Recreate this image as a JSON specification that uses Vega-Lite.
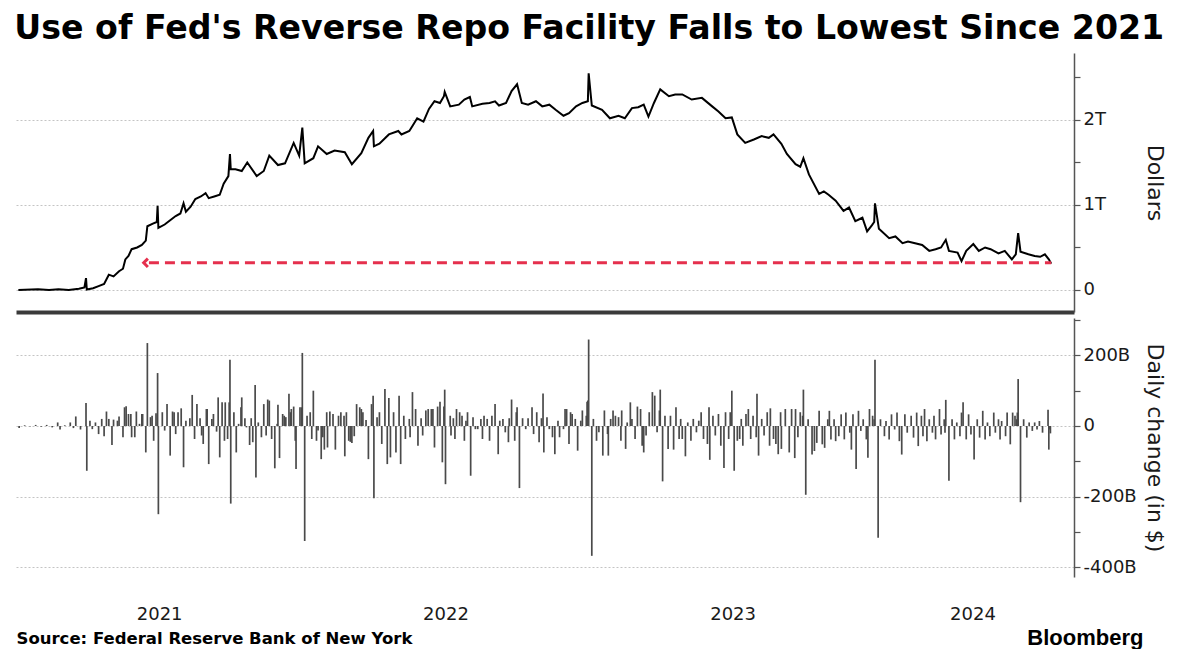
{
"$schema": "https://vega.github.io/schema/vega-lite/v6.json",
"background": "white",
"padding": {"left": 14, "top": 11, "right": 4, "bottom": 0},
"config": {"view": {"stroke": null}, "font": "DejaVu Sans"},
"title": {"text": "Use of Fed's Reverse Repo Facility Falls to Lowest Since 2021", "anchor": "start", "font": "DejaVu Sans", "fontSize": 33.2, "fontWeight": "bold", "color": "#000000", "offset": 7},
"datasets": {
"level": [
{"d":"2021-01-04","v":0},{"d":"2021-01-29","v":8},{"d":"2021-02-12","v":0},{"d":"2021-02-24","v":8},{"d":"2021-03-09","v":0},{"d":"2021-03-22","v":15},{"d":"2021-03-29","v":30},{"d":"2021-03-31","v":140},{"d":"2021-04-01","v":5},{"d":"2021-04-09","v":20},{"d":"2021-04-16","v":45},{"d":"2021-04-23","v":70},{"d":"2021-04-29","v":180},{"d":"2021-05-05","v":160},{"d":"2021-05-12","v":220},{"d":"2021-05-17","v":250},{"d":"2021-05-20","v":360},{"d":"2021-05-24","v":400},{"d":"2021-05-28","v":480},{"d":"2021-06-04","v":500},{"d":"2021-06-10","v":530},{"d":"2021-06-15","v":580},{"d":"2021-06-17","v":750},{"d":"2021-06-24","v":780},{"d":"2021-06-29","v":800},{"d":"2021-06-30","v":990},{"d":"2021-07-01","v":730},{"d":"2021-07-09","v":770},{"d":"2021-07-16","v":820},{"d":"2021-07-23","v":870},{"d":"2021-07-29","v":900},{"d":"2021-08-02","v":1020},{"d":"2021-08-05","v":920},{"d":"2021-08-11","v":980},{"d":"2021-08-17","v":1070},{"d":"2021-08-24","v":1100},{"d":"2021-08-30","v":1140},{"d":"2021-09-03","v":1080},{"d":"2021-09-10","v":1100},{"d":"2021-09-17","v":1120},{"d":"2021-09-22","v":1250},{"d":"2021-09-28","v":1340},{"d":"2021-09-30","v":1600},{"d":"2021-10-01","v":1420},{"d":"2021-10-07","v":1420},{"d":"2021-10-15","v":1400},{"d":"2021-10-22","v":1500},{"d":"2021-11-03","v":1340},{"d":"2021-11-12","v":1400},{"d":"2021-11-19","v":1580},{"d":"2021-11-30","v":1470},{"d":"2021-12-09","v":1490},{"d":"2021-12-20","v":1730},{"d":"2021-12-27","v":1580},{"d":"2021-12-31","v":1910},{"d":"2022-01-03","v":1490},{"d":"2022-01-14","v":1550},{"d":"2022-01-20","v":1690},{"d":"2022-01-31","v":1600},{"d":"2022-02-10","v":1640},{"d":"2022-02-23","v":1620},{"d":"2022-03-04","v":1480},{"d":"2022-03-16","v":1610},{"d":"2022-03-25","v":1790},{"d":"2022-03-31","v":1870},{"d":"2022-04-01","v":1690},{"d":"2022-04-08","v":1720},{"d":"2022-04-20","v":1830},{"d":"2022-05-02","v":1870},{"d":"2022-05-06","v":1830},{"d":"2022-05-16","v":1870},{"d":"2022-05-20","v":1930},{"d":"2022-05-26","v":2020},{"d":"2022-06-03","v":1980},{"d":"2022-06-10","v":2130},{"d":"2022-06-17","v":2220},{"d":"2022-06-24","v":2200},{"d":"2022-06-29","v":2280},{"d":"2022-06-30","v":2330},{"d":"2022-07-07","v":2160},{"d":"2022-07-18","v":2180},{"d":"2022-07-25","v":2240},{"d":"2022-08-01","v":2270},{"d":"2022-08-04","v":2160},{"d":"2022-08-17","v":2190},{"d":"2022-08-26","v":2200},{"d":"2022-09-02","v":2220},{"d":"2022-09-07","v":2170},{"d":"2022-09-16","v":2200},{"d":"2022-09-23","v":2340},{"d":"2022-09-30","v":2420},{"d":"2022-10-06","v":2200},{"d":"2022-10-14","v":2180},{"d":"2022-10-24","v":2220},{"d":"2022-11-01","v":2160},{"d":"2022-11-10","v":2180},{"d":"2022-11-18","v":2120},{"d":"2022-11-28","v":2050},{"d":"2022-12-05","v":2080},{"d":"2022-12-14","v":2160},{"d":"2022-12-22","v":2200},{"d":"2022-12-29","v":2220},{"d":"2022-12-30","v":2550},{"d":"2023-01-03","v":2170},{"d":"2023-01-16","v":2120},{"d":"2023-01-26","v":2020},{"d":"2023-02-06","v":2050},{"d":"2023-02-14","v":2020},{"d":"2023-02-23","v":2140},{"d":"2023-03-03","v":2150},{"d":"2023-03-10","v":2180},{"d":"2023-03-16","v":2040},{"d":"2023-03-23","v":2200},{"d":"2023-03-31","v":2360},{"d":"2023-04-11","v":2280},{"d":"2023-04-19","v":2300},{"d":"2023-04-28","v":2300},{"d":"2023-05-10","v":2240},{"d":"2023-05-23","v":2260},{"d":"2023-06-05","v":2160},{"d":"2023-06-13","v":2100},{"d":"2023-06-22","v":2020},{"d":"2023-06-30","v":2030},{"d":"2023-07-07","v":1830},{"d":"2023-07-17","v":1730},{"d":"2023-07-28","v":1770},{"d":"2023-08-07","v":1810},{"d":"2023-08-16","v":1790},{"d":"2023-08-22","v":1830},{"d":"2023-09-01","v":1720},{"d":"2023-09-08","v":1600},{"d":"2023-09-19","v":1480},{"d":"2023-09-25","v":1450},{"d":"2023-09-29","v":1550},{"d":"2023-10-06","v":1360},{"d":"2023-10-19","v":1130},{"d":"2023-10-25","v":1160},{"d":"2023-10-31","v":1120},{"d":"2023-11-09","v":1050},{"d":"2023-11-19","v":930},{"d":"2023-11-26","v":970},{"d":"2023-12-04","v":810},{"d":"2023-12-13","v":850},{"d":"2023-12-19","v":690},{"d":"2023-12-25","v":760},{"d":"2023-12-28","v":800},{"d":"2023-12-29","v":1020},{"d":"2024-01-03","v":720},{"d":"2024-01-16","v":610},{"d":"2024-01-24","v":630},{"d":"2024-02-02","v":550},{"d":"2024-02-09","v":570},{"d":"2024-02-18","v":550},{"d":"2024-02-27","v":530},{"d":"2024-03-07","v":460},{"d":"2024-03-15","v":480},{"d":"2024-03-22","v":500},{"d":"2024-03-28","v":590},{"d":"2024-04-01","v":460},{"d":"2024-04-12","v":440},{"d":"2024-04-17","v":340},{"d":"2024-04-23","v":460},{"d":"2024-05-02","v":540},{"d":"2024-05-09","v":460},{"d":"2024-05-17","v":500},{"d":"2024-05-24","v":480},{"d":"2024-06-03","v":430},{"d":"2024-06-11","v":460},{"d":"2024-06-20","v":360},{"d":"2024-06-25","v":420},{"d":"2024-06-28","v":670},{"d":"2024-07-01","v":450},{"d":"2024-07-11","v":420},{"d":"2024-07-19","v":400},{"d":"2024-07-26","v":390},{"d":"2024-08-01","v":420},{"d":"2024-08-06","v":360},{"d":"2024-08-09","v":310}
],
"change": [
{"d":"2021-01-05","c":-6},{"d":"2021-01-12","c":2},{"d":"2021-01-19","c":-1},{"d":"2021-01-26","c":3},{"d":"2021-02-02","c":-2},{"d":"2021-02-09","c":3},{"d":"2021-02-16","c":-4},{"d":"2021-02-23","c":10},{"d":"2021-02-26","c":-10},{"d":"2021-03-04","c":2},{"d":"2021-03-11","c":10},{"d":"2021-03-15","c":-6},{"d":"2021-03-18","c":27},{"d":"2021-03-24","c":-10},{"d":"2021-03-31","c":65},{"d":"2021-04-01","c":-127},{"d":"2021-04-05","c":15},{"d":"2021-04-08","c":-9},{"d":"2021-04-12","c":10},{"d":"2021-04-16","c":-23},{"d":"2021-04-20","c":20},{"d":"2021-04-23","c":-29},{"d":"2021-04-26","c":41},{"d":"2021-04-29","c":20},
{"d":"2021-05-03","c":-54},{"d":"2021-05-05","c":18},{"d":"2021-05-10","c":15},{"d":"2021-05-12","c":27},{"d":"2021-05-17","c":-32},{"d":"2021-05-19","c":53},{"d":"2021-05-21","c":56},{"d":"2021-05-24","c":34},{"d":"2021-05-27","c":34},{"d":"2021-05-28","c":-32},{"d":"2021-06-01","c":-32},{"d":"2021-06-03","c":41},{"d":"2021-06-07","c":6},{"d":"2021-06-10","c":34},{"d":"2021-06-11","c":34},{"d":"2021-06-15","c":-75},{"d":"2021-06-17","c":235},{"d":"2021-06-21","c":25},{"d":"2021-06-23","c":29},{"d":"2021-06-25","c":-42},{"d":"2021-06-28","c":36},{"d":"2021-06-30","c":150},
{"d":"2021-07-01","c":-250},{"d":"2021-07-06","c":39},{"d":"2021-07-09","c":-13},{"d":"2021-07-12","c":62},{"d":"2021-07-16","c":-84},{"d":"2021-07-19","c":41},{"d":"2021-07-21","c":39},{"d":"2021-07-23","c":-23},{"d":"2021-07-26","c":39},{"d":"2021-07-30","c":50},{"d":"2021-08-02","c":-117},{"d":"2021-08-05","c":15},{"d":"2021-08-10","c":22},{"d":"2021-08-13","c":88},{"d":"2021-08-16","c":-37},{"d":"2021-08-19","c":62},{"d":"2021-08-23","c":22},{"d":"2021-08-25","c":-27},{"d":"2021-08-27","c":-51},{"d":"2021-08-31","c":48},
{"d":"2021-09-01","c":48},{"d":"2021-09-03","c":-108},{"d":"2021-09-07","c":20},{"d":"2021-09-09","c":34},{"d":"2021-09-13","c":-16},{"d":"2021-09-15","c":81},{"d":"2021-09-17","c":-89},{"d":"2021-09-20","c":67},{"d":"2021-09-23","c":-42},{"d":"2021-09-24","c":67},{"d":"2021-09-27","c":-37},{"d":"2021-09-29","c":67},{"d":"2021-09-30","c":188},{"d":"2021-10-01","c":-220},{"d":"2021-10-05","c":39},{"d":"2021-10-08","c":-75},{"d":"2021-10-11","c":6},{"d":"2021-10-14","c":53},{"d":"2021-10-15","c":81},{"d":"2021-10-19","c":22},{"d":"2021-10-21","c":-4},{"d":"2021-10-25","c":-54},{"d":"2021-10-27","c":22},{"d":"2021-10-29","c":-46},
{"d":"2021-11-01","c":116},{"d":"2021-11-02","c":-146},{"d":"2021-11-05","c":10},{"d":"2021-11-09","c":-32},{"d":"2021-11-12","c":62},{"d":"2021-11-15","c":-27},{"d":"2021-11-17","c":75},{"d":"2021-11-19","c":72},{"d":"2021-11-22","c":-37},{"d":"2021-11-26","c":-120},{"d":"2021-11-29","c":6},{"d":"2021-11-30","c":60},{"d":"2021-12-02","c":-91},{"d":"2021-12-06","c":34},{"d":"2021-12-08","c":29},{"d":"2021-12-10","c":25},{"d":"2021-12-14","c":91},{"d":"2021-12-16","c":39},{"d":"2021-12-17","c":48},{"d":"2021-12-20","c":55},{"d":"2021-12-22","c":-42},{"d":"2021-12-23","c":-122},{"d":"2021-12-28","c":53},{"d":"2021-12-30","c":53},{"d":"2021-12-31","c":207},
{"d":"2022-01-03","c":-326},{"d":"2022-01-06","c":29},{"d":"2022-01-10","c":39},{"d":"2022-01-12","c":-37},{"d":"2022-01-14","c":100},{"d":"2022-01-18","c":-42},{"d":"2022-01-20","c":-13},{"d":"2022-01-24","c":-94},{"d":"2022-01-26","c":-32},{"d":"2022-01-28","c":-67},{"d":"2022-01-31","c":39},{"d":"2022-02-01","c":-61},{"d":"2022-02-04","c":41},{"d":"2022-02-08","c":34},{"d":"2022-02-11","c":-67},{"d":"2022-02-15","c":29},{"d":"2022-02-18","c":39},{"d":"2022-02-22","c":29},{"d":"2022-02-23","c":-86},{"d":"2022-02-25","c":39},{"d":"2022-02-28","c":-42},
{"d":"2022-03-02","c":-45},{"d":"2022-03-04","c":-48},{"d":"2022-03-07","c":-29},{"d":"2022-03-10","c":62},{"d":"2022-03-14","c":53},{"d":"2022-03-16","c":48},{"d":"2022-03-18","c":39},{"d":"2022-03-22","c":17},{"d":"2022-03-25","c":-94},{"d":"2022-03-29","c":62},{"d":"2022-03-31","c":86},{"d":"2022-04-01","c":-205},{"d":"2022-04-05","c":25},{"d":"2022-04-08","c":39},{"d":"2022-04-11","c":-51},{"d":"2022-04-15","c":105},{"d":"2022-04-18","c":-108},{"d":"2022-04-20","c":79},{"d":"2022-04-22","c":-89},{"d":"2022-04-26","c":39},{"d":"2022-04-29","c":-75},
{"d":"2022-05-03","c":86},{"d":"2022-05-05","c":-108},{"d":"2022-05-09","c":29},{"d":"2022-05-11","c":-37},{"d":"2022-05-16","c":20},{"d":"2022-05-17","c":-32},{"d":"2022-05-20","c":96},{"d":"2022-05-24","c":48},{"d":"2022-05-27","c":-56},{"d":"2022-05-31","c":22},{"d":"2022-06-02","c":-27},{"d":"2022-06-06","c":44},{"d":"2022-06-09","c":48},{"d":"2022-06-13","c":48},{"d":"2022-06-15","c":48},{"d":"2022-06-17","c":-61},{"d":"2022-06-21","c":55},{"d":"2022-06-24","c":69},{"d":"2022-06-27","c":-103},{"d":"2022-06-29","c":55},{"d":"2022-06-30","c":103},
{"d":"2022-07-01","c":-165},{"d":"2022-07-07","c":29},{"d":"2022-07-08","c":-27},{"d":"2022-07-11","c":22},{"d":"2022-07-13","c":-37},{"d":"2022-07-15","c":48},{"d":"2022-07-19","c":39},{"d":"2022-07-22","c":29},{"d":"2022-07-25","c":-42},{"d":"2022-07-27","c":15},{"d":"2022-07-29","c":39},{"d":"2022-08-02","c":-141},{"d":"2022-08-05","c":25},{"d":"2022-08-08","c":-9},{"d":"2022-08-11","c":-9},{"d":"2022-08-15","c":20},{"d":"2022-08-17","c":-37},{"d":"2022-08-19","c":29},{"d":"2022-08-23","c":20},{"d":"2022-08-26","c":-42},{"d":"2022-08-29","c":29},
{"d":"2022-09-02","c":62},{"d":"2022-09-06","c":-80},{"d":"2022-09-08","c":15},{"d":"2022-09-12","c":20},{"d":"2022-09-15","c":-18},{"d":"2022-09-19","c":-46},{"d":"2022-09-20","c":22},{"d":"2022-09-23","c":75},{"d":"2022-09-27","c":-42},{"d":"2022-09-29","c":39},{"d":"2022-09-30","c":53},{"d":"2022-10-03","c":-176},{"d":"2022-10-07","c":22},{"d":"2022-10-11","c":-9},{"d":"2022-10-14","c":22},{"d":"2022-10-19","c":53},{"d":"2022-10-21","c":-23},{"d":"2022-10-25","c":39},{"d":"2022-10-28","c":-46},{"d":"2022-10-31","c":22},
{"d":"2022-11-02","c":92},{"d":"2022-11-03","c":-75},{"d":"2022-11-07","c":25},{"d":"2022-11-10","c":-9},{"d":"2022-11-14","c":-32},{"d":"2022-11-17","c":-80},{"d":"2022-11-21","c":15},{"d":"2022-11-23","c":-32},{"d":"2022-11-28","c":-9},{"d":"2022-11-30","c":48},{"d":"2022-12-02","c":48},{"d":"2022-12-05","c":-51},{"d":"2022-12-07","c":39},{"d":"2022-12-09","c":34},{"d":"2022-12-13","c":20},{"d":"2022-12-16","c":-70},{"d":"2022-12-20","c":15},{"d":"2022-12-22","c":44},{"d":"2022-12-27","c":29},{"d":"2022-12-28","c":69},{"d":"2022-12-29","c":72},{"d":"2022-12-30","c":245},
{"d":"2023-01-03","c":-368},{"d":"2023-01-05","c":20},{"d":"2023-01-09","c":-42},{"d":"2023-01-12","c":-18},{"d":"2023-01-17","c":-84},{"d":"2023-01-19","c":44},{"d":"2023-01-23","c":-23},{"d":"2023-01-24","c":-84},{"d":"2023-01-27","c":20},{"d":"2023-01-30","c":44},{"d":"2023-02-02","c":29},{"d":"2023-02-06","c":25},{"d":"2023-02-09","c":-42},{"d":"2023-02-10","c":44},{"d":"2023-02-15","c":-65},{"d":"2023-02-17","c":10},{"d":"2023-02-21","c":67},{"d":"2023-02-23","c":20},{"d":"2023-02-27","c":-37},
{"d":"2023-03-02","c":55},{"d":"2023-03-06","c":48},{"d":"2023-03-08","c":-56},{"d":"2023-03-10","c":-75},{"d":"2023-03-13","c":-27},{"d":"2023-03-17","c":39},{"d":"2023-03-21","c":96},{"d":"2023-03-24","c":86},{"d":"2023-03-27","c":-18},{"d":"2023-03-30","c":44},{"d":"2023-03-31","c":103},{"d":"2023-04-03","c":-157},{"d":"2023-04-06","c":29},{"d":"2023-04-10","c":-65},{"d":"2023-04-13","c":29},{"d":"2023-04-17","c":-67},{"d":"2023-04-20","c":53},{"d":"2023-04-24","c":-37},{"d":"2023-04-26","c":20},{"d":"2023-04-28","c":-37},
{"d":"2023-05-02","c":-86},{"d":"2023-05-05","c":10},{"d":"2023-05-09","c":-42},{"d":"2023-05-12","c":20},{"d":"2023-05-16","c":-18},{"d":"2023-05-19","c":15},{"d":"2023-05-22","c":39},{"d":"2023-05-25","c":-37},{"d":"2023-05-30","c":-51},{"d":"2023-06-01","c":53},{"d":"2023-06-02","c":-96},{"d":"2023-06-06","c":29},{"d":"2023-06-09","c":-27},{"d":"2023-06-13","c":34},{"d":"2023-06-16","c":-56},{"d":"2023-06-20","c":-119},{"d":"2023-06-22","c":39},{"d":"2023-06-26","c":-37},{"d":"2023-06-28","c":39},{"d":"2023-06-30","c":100},
{"d":"2023-07-03","c":-127},{"d":"2023-07-07","c":-42},{"d":"2023-07-10","c":-37},{"d":"2023-07-12","c":20},{"d":"2023-07-14","c":-56},{"d":"2023-07-18","c":34},{"d":"2023-07-21","c":48},{"d":"2023-07-24","c":-37},{"d":"2023-07-27","c":29},{"d":"2023-07-31","c":-32},{"d":"2023-08-01","c":91},{"d":"2023-08-03","c":-84},{"d":"2023-08-07","c":20},{"d":"2023-08-10","c":-27},{"d":"2023-08-14","c":39},{"d":"2023-08-17","c":-56},{"d":"2023-08-18","c":50},{"d":"2023-08-22","c":-37},{"d":"2023-08-25","c":-51},{"d":"2023-08-28","c":-80},{"d":"2023-08-31","c":39},
{"d":"2023-09-01","c":-65},{"d":"2023-09-06","c":48},{"d":"2023-09-11","c":-75},{"d":"2023-09-14","c":48},{"d":"2023-09-18","c":-91},{"d":"2023-09-19","c":48},{"d":"2023-09-22","c":-32},{"d":"2023-09-25","c":39},{"d":"2023-09-28","c":29},{"d":"2023-09-29","c":103},{"d":"2023-10-02","c":-195},{"d":"2023-10-05","c":19},{"d":"2023-10-10","c":-81},{"d":"2023-10-13","c":-71},{"d":"2023-10-16","c":-48},{"d":"2023-10-19","c":43},{"d":"2023-10-23","c":-52},{"d":"2023-10-26","c":-62},{"d":"2023-10-30","c":19},
{"d":"2023-11-01","c":43},{"d":"2023-11-03","c":-38},{"d":"2023-11-07","c":19},{"d":"2023-11-09","c":-43},{"d":"2023-11-13","c":-29},{"d":"2023-11-16","c":33},{"d":"2023-11-20","c":-38},{"d":"2023-11-22","c":38},{"d":"2023-11-27","c":-19},{"d":"2023-11-29","c":-67},{"d":"2023-12-01","c":33},{"d":"2023-12-05","c":-122},{"d":"2023-12-08","c":43},{"d":"2023-12-11","c":-14},{"d":"2023-12-14","c":19},{"d":"2023-12-18","c":-38},{"d":"2023-12-20","c":-90},{"d":"2023-12-22","c":48},{"d":"2023-12-26","c":29},{"d":"2023-12-28","c":19},{"d":"2023-12-29","c":188},
{"d":"2024-01-02","c":-317},{"d":"2024-01-05","c":19},{"d":"2024-01-10","c":-29},{"d":"2024-01-12","c":14},{"d":"2024-01-16","c":-38},{"d":"2024-01-19","c":33},{"d":"2024-01-23","c":-10},{"d":"2024-01-26","c":38},{"d":"2024-01-29","c":-43},{"d":"2024-02-01","c":-81},{"d":"2024-02-05","c":33},{"d":"2024-02-08","c":-19},{"d":"2024-02-13","c":29},{"d":"2024-02-16","c":-33},{"d":"2024-02-20","c":38},{"d":"2024-02-22","c":-57},{"d":"2024-02-26","c":29},{"d":"2024-02-28","c":-29},
{"d":"2024-03-01","c":48},{"d":"2024-03-04","c":-43},{"d":"2024-03-07","c":19},{"d":"2024-03-11","c":-19},{"d":"2024-03-13","c":29},{"d":"2024-03-15","c":-38},{"d":"2024-03-20","c":48},{"d":"2024-03-22","c":-24},{"d":"2024-03-26","c":19},{"d":"2024-03-27","c":-19},{"d":"2024-03-28","c":74},{"d":"2024-04-01","c":-155},{"d":"2024-04-05","c":19},{"d":"2024-04-08","c":-38},{"d":"2024-04-11","c":10},{"d":"2024-04-15","c":-29},{"d":"2024-04-17","c":38},{"d":"2024-04-19","c":67},{"d":"2024-04-23","c":-38},{"d":"2024-04-26","c":33},{"d":"2024-04-29","c":-24},
{"d":"2024-05-03","c":-95},{"d":"2024-05-07","c":19},{"d":"2024-05-10","c":-33},{"d":"2024-05-14","c":43},{"d":"2024-05-17","c":-38},{"d":"2024-05-20","c":10},{"d":"2024-05-23","c":-29},{"d":"2024-05-28","c":38},{"d":"2024-05-30","c":-19},{"d":"2024-06-03","c":19},{"d":"2024-06-05","c":-38},{"d":"2024-06-07","c":14},{"d":"2024-06-12","c":-29},{"d":"2024-06-14","c":38},{"d":"2024-06-18","c":-52},{"d":"2024-06-21","c":38},{"d":"2024-06-24","c":29},{"d":"2024-06-26","c":19},{"d":"2024-06-27","c":38},{"d":"2024-06-28","c":133},
{"d":"2024-07-01","c":-216},{"d":"2024-07-05","c":19},{"d":"2024-07-09","c":-33},{"d":"2024-07-12","c":10},{"d":"2024-07-16","c":-14},{"d":"2024-07-19","c":10},{"d":"2024-07-22","c":-10},{"d":"2024-07-25","c":14},{"d":"2024-07-29","c":-19},{"d":"2024-08-05","c":46},{"d":"2024-08-06","c":-67},{"d":"2024-08-07","c":-10},{"d":"2024-08-08","c":-21}
]
},
"vconcat": [
{
"title": {"text": "Bloomberg", "orient": "bottom", "anchor": "end", "font": "Liberation Sans", "fontSize": 22, "fontWeight": "bold", "color": "#000000", "offset": -19, "dx": -22},
"spacing": 6,
"vconcat": [
{
"width": 1058, "height": 259,
"layer": [
{
"data": {"name": "level"},
"mark": {"type": "line", "color": "#000000", "strokeWidth": 2},
"encoding": {
"x": {"field": "d", "type": "temporal", "scale": {"domain": [{"year": 2021, "month": 1, "date": 1}, {"year": 2024, "month": 9, "date": 7}]},
 "axis": {"orient": "bottom", "labels": false, "ticks": false, "grid": false, "domain": true, "domainWidth": 4, "domainColor": "#3a3a3a", "title": null}},
"y": {"field": "v", "type": "quantitative", "scale": {"domain": [-259, 2788], "nice": false, "zero": false},
 "axis": {"orient": "right", "values": [0, 500, 1000, 1500, 2000, 2500],
  "labelExpr": "datum.value % 1000 === 0 ? (datum.value === 0 ? '0' : datum.value / 1000 + 'T') : ''",
  "grid": true, "gridColor": "#c4c4c4", "gridDash": [2, 2], "gridWidth": 1,
  "gridOpacity": {"condition": {"test": "datum.value % 1000 === 0", "value": 1}, "value": 0},
  "tickSize": 6, "tickColor": "#555555", "tickWidth": 1.2, "domainColor": "#555555", "domainWidth": 1.5,
  "labelFont": "DejaVu Sans", "labelFontSize": 18, "labelColor": "#1a1a1a", "labelPadding": 3,
  "title": "Dollars", "titleFont": "DejaVu Sans", "titleFontSize": 22, "titleFontWeight": "normal", "titleColor": "#1a1a1a", "titlePadding": 37}}
}
},
{
"data": {"values": [{}]},
"mark": {"type": "rule", "color": "#e5304d", "strokeWidth": 3, "strokeDash": [10, 6]},
"encoding": {
"x": {"datum": {"year": 2021, "month": 6, "date": 19}, "type": "temporal"},
"x2": {"datum": {"year": 2024, "month": 8, "date": 9}},
"y": {"datum": 320, "type": "quantitative"}
}
},
{
"data": {"values": [{}]},
"mark": {"type": "point", "shape": "M0.5,-1L-0.5,0L0.5,1", "filled": false, "stroke": "#e5304d", "strokeWidth": 3, "size": 70, "opacity": 1},
"encoding": {
"x": {"datum": {"year": 2021, "month": 6, "date": 15}, "type": "temporal"},
"y": {"datum": 320, "type": "quantitative"}
}
}
]
},
{
"width": 1058, "height": 259,
"data": {"name": "change"},
"mark": {"type": "rule", "color": "#4a4a4a", "strokeWidth": 1.7},
"encoding": {
"x": {"field": "d", "type": "temporal", "scale": {"domain": [{"year": 2021, "month": 1, "date": 1}, {"year": 2024, "month": 9, "date": 7}]},
 "axis": {"orient": "bottom", "values": [{"year": 2021, "month": 7, "date": 2}, {"year": 2022, "month": 7, "date": 1}, {"year": 2023, "month": 7, "date": 1}, {"year": 2024, "month": 5, "date": 1}],
  "format": "%Y", "domain": false, "ticks": false, "grid": false,
  "labelFont": "DejaVu Sans", "labelFontSize": 18, "labelColor": "#1a1a1a", "labelPadding": 28,
  "title": "Source: Federal Reserve Bank of New York", "titleAnchor": "start", "titleAlign": "left",
  "titleFont": "DejaVu Sans", "titleFontSize": 16.5, "titleFontWeight": "bold", "titleColor": "#000000", "titlePadding": 7}},
"y": {"field": "c", "type": "quantitative", "scale": {"domain": [-428, 306], "nice": false, "zero": false},
 "axis": {"orient": "right", "values": [-400, -300, -200, -100, 0, 100, 200, 300],
  "labelExpr": "datum.value % 200 === 0 ? (datum.value === 0 ? '0' : datum.value + 'B') : ''",
  "grid": true, "gridColor": "#c4c4c4", "gridDash": [2, 2], "gridWidth": 1,
  "gridOpacity": {"condition": {"test": "datum.value % 200 === 0", "value": 1}, "value": 0},
  "tickSize": 6, "tickColor": "#555555", "tickWidth": 1.2, "domainColor": "#555555", "domainWidth": 1.5,
  "labelFont": "DejaVu Sans", "labelFontSize": 18, "labelColor": "#1a1a1a", "labelPadding": 3,
  "title": "Daily change (in $)", "titleFont": "DejaVu Sans", "titleFontSize": 22, "titleFontWeight": "normal", "titleColor": "#1a1a1a", "titlePadding": 6}},
"y2": {"datum": 0}
}
}
]
}
]
}
